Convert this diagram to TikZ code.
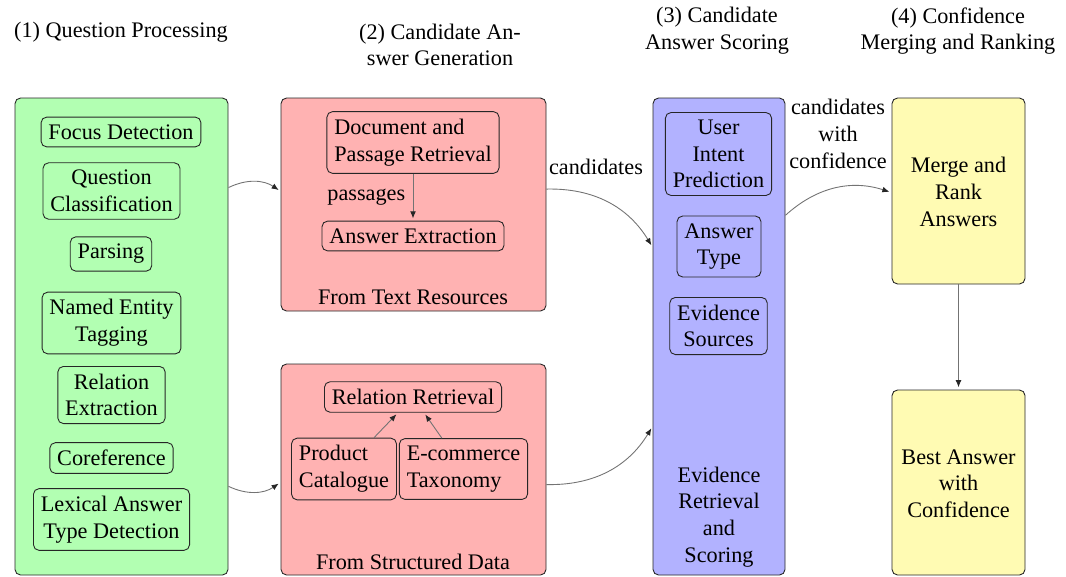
\documentclass[tikz,border=0pt]{standalone}
\usepackage{fontspec}
\setmainfont{Liberation Serif}
\usetikzlibrary{arrows.meta}
\begin{document}
\begin{tikzpicture}[x=0.45pt,y=-0.45pt,
  bigbox/.style 2 args={draw=black!85, rounded corners=2.5pt, minimum width=#1*0.45pt, minimum height=#2*0.45pt, inner sep=0pt},
  smallbox/.style={draw=black!85, rounded corners=2.5pt, align=center},
  lbox/.style={draw=black!85, rounded corners=2.5pt, align=left},
  plain/.style={align=center},
  conn/.style={draw=black!55, -{Latex[length=3.2pt,width=2.6pt,black!85]}, shorten >=1pt}
]
\useasboundingbox (0,0) rectangle (1066,576);

% headers
\node[plain] (h1) at (121,32) {(1) Question Processing};
\node[plain] (h2) at (440,45) {(2) Candidate An-\\swer Generation};
\node[plain] (h3) at (717,31) {(3) Candidate\\Answer Scoring};
\node[plain] (h4) at (958,31) {(4) Confidence\\Merging and Ranking};

% big boxes
\node[bigbox={213}{477}, fill=green!30] (G) at (121.5,336.5) {};
\node[bigbox={265}{213}, fill=red!30] (T) at (413.5,204.5) {};
\node[bigbox={265}{211}, fill=red!30] (S) at (413.5,469.5) {};
\node[bigbox={132}{477}, fill=blue!30] (B) at (719,336.5) {};
\node[bigbox={133}{186}, fill=yellow!30] (M) at (958.5,191) {};
\node[bigbox={133}{185}, fill=yellow!30] (A) at (958.5,482.5) {};

% question processing
\node[smallbox] (fd) at (121,132) {Focus Detection};
\node[smallbox] (qc) at (111.5,191) {Question\\Classification};
\node[smallbox] (pa) at (111,254) {Parsing};
\node[smallbox] (ne) at (111.5,323) {Named Entity\\Tagging};
\node[smallbox] (re) at (111.5,395) {Relation\\Extraction};
\node[smallbox] (co) at (111.5,458) {Coreference};
\node[smallbox] (la) at (111.5,519.5) {Lexical Answer\\Type Detection};

% text resources
\node[lbox] (dp) at (413,142.5) {Document and\\Passage Retrieval};
\node[smallbox] (ae) at (413,236) {Answer Extraction};
\node[plain] (tl) at (413,297) {From Text Resources};
\draw[conn] (dp) -- node[midway,left] (pl) {passages} (ae);

% structured data
\node[smallbox] (rr) at (413,397) {Relation Retrieval};
\node[lbox] (pc) at (344,469) {Product\\Catalogue};
\node[lbox] (ec) at (463.5,469) {E-commerce\\Taxonomy};
\node[plain] (sl) at (413,562) {From Structured Data};
\draw[conn] (pc) -- (rr);
\draw[conn] (ec) -- (rr);

% scoring
\node[smallbox] (ui) at (718.5,154) {User\\Intent\\Prediction};
\node[smallbox] (at) at (719,246.5) {Answer\\Type};
\node[smallbox] (es) at (718.5,326) {Evidence\\Sources};
\node[plain] (er) at (719,517) {Evidence\\Retrieval\\and\\Scoring};

% merging
\node[plain] (mt) at (958.5,192) {Merge and\\Rank\\Answers};
\node[plain] (bt) at (958.5,483.5) {Best Answer\\with\\Confidence};

% connectors
\draw[conn] (G) to[bend left] (T);
\draw[conn] (G) to[bend right] (S);
\draw[conn] (T) to[bend left] (B);
\draw[conn] (S) to[bend right] (B);
\draw[conn] (B) to[bend left] (M);
\draw[conn] (M) -- (A);

\node[plain] (cl) at (596,167) {candidates};
\node[plain] (cw) at (838,134) {candidates\\with\\confidence};
\end{tikzpicture}
\end{document}
